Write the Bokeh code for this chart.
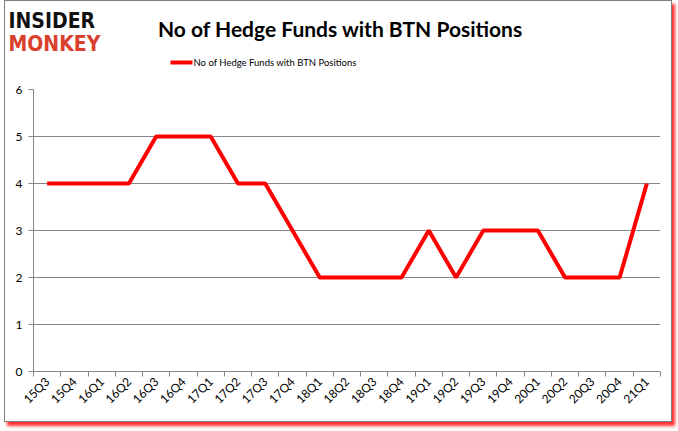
from bokeh.plotting import figure
from bokeh.models import Label, FixedTicker, Range1d
from bokeh.layouts import column, row
from bokeh.embed import file_html
from bokeh.resources import INLINE
import math

quarters = ["15Q3","15Q4","16Q1","16Q2","16Q3","16Q4","17Q1","17Q2","17Q3","17Q4",
            "18Q1","18Q2","18Q3","18Q4","19Q1","19Q2","19Q3","19Q4","20Q1","20Q2",
            "20Q3","20Q4","21Q1"]
funds = [4,4,4,4,5,5,5,4,4,3,2,2,2,2,3,2,3,3,3,2,2,2,4]
y_ticks = [0,1,2,3,4,5,6]
series_name = "No of Hedge Funds with BTN Positions"

n = len(quarters)
xs = [i + 0.5 for i in range(n)]

W = 666
HH = 80
# ---------- header (title, logo, legend) ----------
h = figure(width=W, height=HH, output_backend="svg", toolbar_location=None,
           x_range=Range1d(0, W), y_range=Range1d(0, HH),
           x_axis_type=None, y_axis_type=None, min_border=0,
           min_border_left=0, min_border_right=0, min_border_top=0, min_border_bottom=0)
h.outline_line_color = None
h.xgrid.grid_line_color = None
h.ygrid.grid_line_color = None
h.background_fill_color = "white"
h.border_fill_color = "white"

h.add_layout(Label(x=335, y=53, text=series_name, text_font="Lato",
                   text_font_style="bold", text_font_size="21px",
                   text_align="center", text_baseline="middle", text_color="#000000"))
h.add_layout(Label(x=3, y=61, text="INSIDER",
                   text_font="DejaVu Sans Condensed",
                   text_font_style="bold", text_font_size="21px",
                   text_baseline="middle", text_color="#111111"))
h.add_layout(Label(x=3, y=38, text="MONKEY",
                   text_font="DejaVu Sans Condensed",
                   text_font_style="bold", text_font_size="21px",
                   text_baseline="middle", text_color="#d9402b"))
h.line([165, 187], [19, 19], line_color="#ff0000", line_width=4)
h.add_layout(Label(x=188, y=19, text=series_name, text_font="Lato",
                   text_font_size="9.5px", text_baseline="middle", text_color="#000000"))

# ---------- main chart ----------
p = figure(width=W, height=340, output_backend="svg", toolbar_location=None,
           x_range=Range1d(0, n), y_range=Range1d(0, 6),
           min_border_left=28, min_border_right=11, min_border_top=8, min_border_bottom=50)
p.background_fill_color = "white"
p.border_fill_color = "white"
p.outline_line_color = None

p.line(xs, funds, line_color="#ff0000", line_width=4)

p.xaxis.ticker = FixedTicker(ticks=xs, minor_ticks=list(range(n + 1)))
p.xaxis.major_label_overrides = {x: q for x, q in zip(xs, quarters)}
p.xaxis.major_tick_out = 0
p.xaxis.major_tick_in = 0
p.xaxis.minor_tick_out = 5
p.xaxis.minor_tick_in = 0
p.xaxis.minor_tick_line_color = "#868686"
p.xaxis.axis_line_color = "#868686"
p.xaxis.major_label_orientation = math.pi / 4
p.xaxis.major_label_text_font = "Lato"
p.xaxis.major_label_text_font_size = "12px"
p.xaxis.major_label_text_color = "#000000"
p.xaxis.major_label_standoff = 3

p.yaxis.ticker = FixedTicker(ticks=y_ticks, minor_ticks=[])
p.yaxis.major_tick_out = 5
p.yaxis.major_tick_in = 0
p.yaxis.major_tick_line_color = "#868686"
p.yaxis.axis_line_color = "#868686"
p.yaxis.major_label_text_font = "Lato"
p.yaxis.major_label_text_font_size = "12px"
p.yaxis.major_label_text_color = "#000000"
p.yaxis.major_label_standoff = 6

p.xgrid.grid_line_color = None
p.ygrid.grid_line_color = "#868686"
p.ygrid.grid_line_width = 1

layout = column(row(h), p, spacing=0, margin=(0, 0, 0, 4),
                styles={"border": "1px solid #7f7f7f",
                        "box-shadow": "3px 4px 3px #ff3030"})
open("out.html", "w").write(file_html(layout, INLINE))
